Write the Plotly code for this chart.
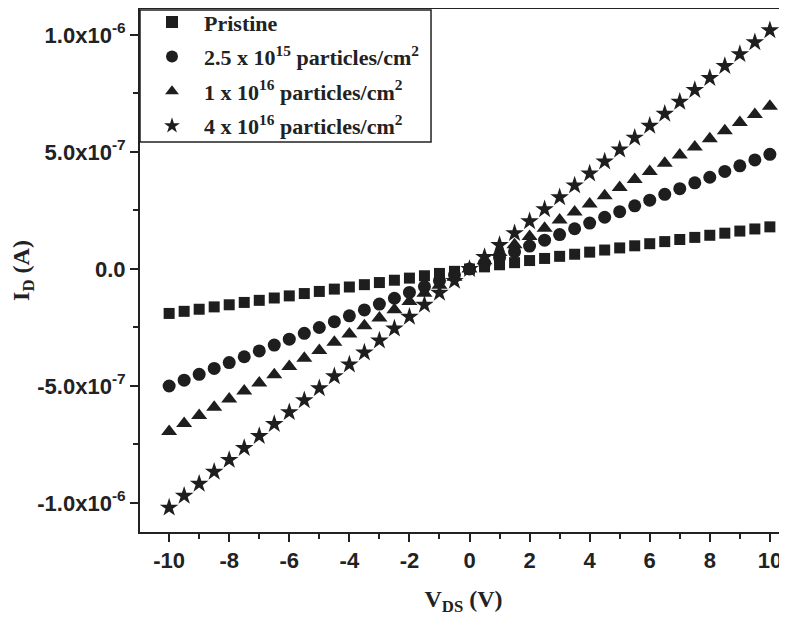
import plotly.graph_objects as go

vds = [-10, -9.5, -9, -8.5, -8, -7.5, -7, -6.5, -6, -5.5, -5, -4.5, -4, -3.5, -3, -2.5, -2, -1.5, -1, -0.5,
       0, 0.5, 1, 1.5, 2, 2.5, 3, 3.5, 4, 4.5, 5, 5.5, 6, 6.5, 7, 7.5, 8, 8.5, 9, 9.5, 10]

# currents in units of 1e-7 A
pristine = [-1.90, -1.81, -1.72, -1.62, -1.53, -1.43, -1.34, -1.24, -1.15, -1.05, -0.96, -0.86, -0.77, -0.67,
            -0.58, -0.48, -0.39, -0.29, -0.19, -0.10, 0.0, 0.09, 0.18, 0.27, 0.36, 0.45, 0.54, 0.63, 0.72, 0.81,
            0.90, 0.99, 1.08, 1.17, 1.26, 1.35, 1.44, 1.53, 1.62, 1.71, 1.80]
dose_25e15 = [-5.00, -4.75, -4.50, -4.25, -4.00, -3.75, -3.50, -3.25, -3.00, -2.75, -2.50, -2.25, -2.00, -1.75,
              -1.50, -1.25, -1.00, -0.75, -0.50, -0.25, 0.0, 0.25, 0.49, 0.74, 0.98, 1.23, 1.47, 1.72, 1.96, 2.21,
              2.45, 2.70, 2.94, 3.19, 3.43, 3.68, 3.92, 4.17, 4.41, 4.66, 4.90]
dose_1e16 = [-6.95, -6.60, -6.26, -5.91, -5.56, -5.21, -4.87, -4.52, -4.17, -3.82, -3.48, -3.13, -2.78, -2.43,
             -2.09, -1.74, -1.39, -1.04, -0.70, -0.35, 0.0, 0.35, 0.70, 1.04, 1.39, 1.74, 2.09, 2.43, 2.78, 3.13,
             3.48, 3.82, 4.17, 4.52, 4.87, 5.21, 5.56, 5.91, 6.26, 6.60, 6.95]
dose_4e16 = [-10.20, -9.69, -9.18, -8.67, -8.16, -7.65, -7.14, -6.63, -6.12, -5.61, -5.10, -4.59, -4.08, -3.57,
             -3.06, -2.55, -2.04, -1.53, -1.02, -0.51, 0.0, 0.51, 1.02, 1.53, 2.04, 2.55, 3.06, 3.57, 4.08, 4.59,
             5.10, 5.61, 6.12, 6.63, 7.14, 7.65, 8.16, 8.67, 9.18, 9.69, 10.20]
unit = 1e-7

names = ["Pristine",
         "2.5 x 10<sup>15</sup> particles/cm<sup>2</sup>",
         "1 x 10<sup>16</sup> particles/cm<sup>2</sup>",
         "4 x 10<sup>16</sup> particles/cm<sup>2</sup>"]
series = [pristine, dose_25e15, dose_1e16, dose_4e16]
symbols = ["square", "circle", "triangle-up", "star"]
sizes = [11, 13, 14, 14]

x_ticks = [-10, -8, -6, -4, -2, 0, 2, 4, 6, 8, 10]
y_tickvals = [-1e-6, -5e-7, 0, 5e-7, 1e-6]
y_ticktext = ["-1.0x10<sup>-6</sup>", "-5.0x10<sup>-7</sup>", "0.0", "5.0x10<sup>-7</sup>", "1.0x10<sup>-6</sup>"]

mc = "#1e1e1e"
fig = go.Figure()
for i, (name, vals, sym, sz) in enumerate(zip(names, series, symbols, sizes)):
    fig.add_trace(go.Scatter(
        x=vds, y=[v * unit for v in vals], mode="markers", name=name, legendgroup=f"g{i}",
        marker=dict(symbol=sym, size=sz, color=mc, line=dict(width=0)),
    ))

tickfont = dict(family="Liberation Sans, Arial", size=22, color="#222", weight="bold")
titlefont = dict(family="Liberation Serif, Times New Roman", size=24, color="#222", weight="bold")

# legend frame
fig.add_shape(type="rect", xref="paper", yref="paper", x0=0, x1=0.4498, y0=0.7457, y1=0.998,
              line=dict(color="#222", width=1.5), fillcolor="rgba(0,0,0,0)", layer="above")

fig.update_layout(
    width=779, height=614,
    margin=dict(l=132, r=0, t=1, b=90, autoexpand=False),
    paper_bgcolor="white", plot_bgcolor="white",
    showlegend=True,
    legend=dict(
        x=0, y=1.015, xanchor="left", yanchor="top",
        bgcolor="rgba(0,0,0,0)", borderwidth=0,
        font=dict(family="Liberation Serif, Times New Roman", size=22, color="#222", weight="bold"),
        tracegroupgap=3, itemsizing="constant", itemwidth=54,
    ),
    xaxis=dict(
        range=[-10.97, 10.57], tickmode="array", tickvals=x_ticks,
        ticktext=[str(t) for t in x_ticks],
        showline=True, linecolor="#222", linewidth=2, mirror=True,
        ticks="outside", ticklen=8, tickwidth=2, tickcolor="#222",
        minor=dict(dtick=1, tick0=-11, ticks="outside", ticklen=5, tickwidth=2, tickcolor="#222"),
        showgrid=False, zeroline=False, tickfont=tickfont,
        title=dict(text="V<sub>DS</sub> (V)", font=titlefont, standoff=18),
    ),
    yaxis=dict(
        range=[-1.124e-6, 1.111e-6], tickmode="array", tickvals=y_tickvals, ticktext=y_ticktext,
        showline=True, linecolor="#222", linewidth=2,
        ticks="outside", ticklen=8, tickwidth=2, tickcolor="#222",
        minor=dict(tickmode="array", tickvals=[-7.5e-7, -2.5e-7, 2.5e-7, 7.5e-7],
                   ticks="outside", ticklen=5, tickwidth=2, tickcolor="#222"),
        showgrid=False, zeroline=False, tickfont=tickfont,
        title=dict(text="I<sub>D</sub> (A)", font=titlefont, standoff=12),
    ),
)

fig.write_html("out.html")
